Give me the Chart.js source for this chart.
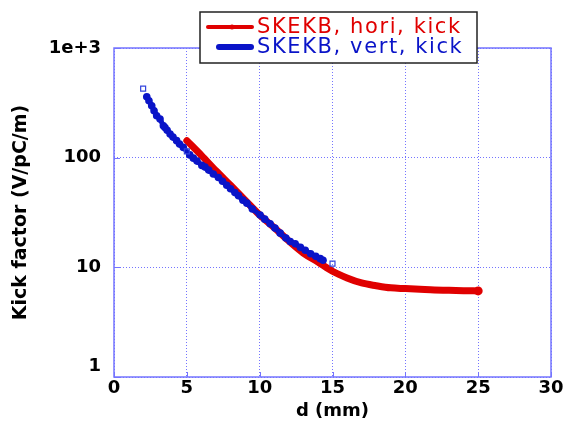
<!DOCTYPE html>
<html>
<head>
<meta charset="utf-8">
<script src="https://cdn.jsdelivr.net/npm/chart.js@4.4.0/dist/chart.umd.min.js"></script>
<style>
  html, body { margin: 0; padding: 0; background: #fff; }
</style>
</head>
<body>
<canvas id="myChart" width="568" height="431"></canvas>
<script>
// horizontal kick factor (red line)
var horiDist = [5, 6, 7, 8, 9, 10, 11, 12, 13, 14, 15, 16, 17, 18, 19, 20, 21, 22, 23, 24, 25];
var horiKick = [143, 105, 76, 56, 41, 30, 23, 17.4, 13.5, 11.2, 9.2, 8.0, 7.2, 6.8, 6.5, 6.4, 6.3, 6.2, 6.17, 6.12, 6.1];

// vertical kick factor (blue dots)
var vertDist = [2.25, 2.4, 2.59, 2.75, 2.93, 3.16, 3.39, 3.5, 3.65, 3.85, 4.05, 4.3, 4.5, 4.76, 5.2, 5.45, 5.7, 6.03, 6.25, 6.5, 6.82, 7.17, 7.45, 7.74, 8.0, 8.3, 8.55, 8.85, 9.12, 9.5, 10.03, 10.35, 10.72, 11.05, 11.41, 11.8, 12.1, 12.44, 12.8, 13.13, 13.5, 13.85, 14.16, 14.35];
var vertKick = [359, 330, 297, 268, 241, 225, 195, 188, 178, 164, 154, 143, 133, 124, 106, 99, 93, 85, 82, 77, 71, 66, 61, 56, 52, 48, 45, 41, 38.5, 34, 30, 27.5, 25, 22.8, 20.5, 18.5, 17.2, 16.4, 15.2, 14.3, 13.3, 12.6, 12, 11.6];

// open square markers on the vertical curve
var vertOpenDist = [2, 5, 15];
var vertOpenKick = [426, 114, 10.8];

var xTicks = [0, 5, 10, 15, 20, 25, 30];
var yTicks = [1, 10, 100, 1000];
var yTickText = { 1: ['1', ''], 10: '10', 100: '100', 1000: '1e+3' };

var legendLabels = ['SKEKB, hori, kick', 'SKEKB, vert, kick'];

var RED = '#e00000';
var BLUE = '#0a14c8';
var GRID = '#7474ff';

function pts(xs, ys) {
  return xs.map(function (x, i) { return { x: x, y: ys[i] }; });
}

// frame + small ticks on the plot edge
var frame = {
  id: 'frame',
  beforeDatasetsDraw: function (chart) {
    var a = chart.chartArea, c = chart.ctx;
    var xs = chart.scales.x, ys = chart.scales.y;
    c.save();
    c.strokeStyle = GRID;
    c.lineWidth = 1.5;
    c.strokeRect(a.left, a.top, a.right - a.left, a.bottom - a.top);
    c.lineWidth = 1;
    xTicks.forEach(function (v) {
      var px = Math.round(xs.getPixelForValue(v)) + 0.5;
      c.beginPath(); c.moveTo(px, a.bottom); c.lineTo(px, a.bottom - 5); c.stroke();
    });
    yTicks.forEach(function (v) {
      var py = Math.round(ys.getPixelForValue(v)) + 0.5;
      c.beginPath(); c.moveTo(a.left, py); c.lineTo(a.left + 6, py); c.stroke();
    });
    c.restore();
  }
};

// boxed legend sitting over the top edge
var boxLegend = {
  id: 'boxLegend',
  afterDraw: function (chart) {
    var c = chart.ctx;
    c.save();
    c.fillStyle = '#fff';
    c.fillRect(200, 12, 277, 51);
    c.strokeStyle = '#222';
    c.lineWidth = 1.5;
    c.strokeRect(200, 12, 277, 51);

    c.lineCap = 'round';
    c.strokeStyle = RED;
    c.lineWidth = 4;
    c.beginPath(); c.moveTo(208, 27); c.lineTo(252, 27); c.stroke();
    c.fillStyle = RED;
    c.beginPath(); c.arc(232, 27, 2.5, 0, Math.PI * 2); c.fill();

    c.strokeStyle = BLUE;
    c.lineWidth = 6;
    c.beginPath(); c.moveTo(219, 47); c.lineTo(251, 47); c.stroke();

    c.font = '21px "DejaVu Sans"';
    c.letterSpacing = '1.6px';
    c.textBaseline = 'middle';
    c.fillStyle = RED;
    c.fillText(legendLabels[0], 257, 28);
    c.fillStyle = BLUE;
    c.fillText(legendLabels[1], 257, 48);
    c.restore();
  }
};

var ctx = document.getElementById('myChart').getContext('2d');
var myChart = new Chart(ctx, {
  type: 'scatter',
  data: {
    datasets: [{
      label: legendLabels[0],
      data: pts(horiDist, horiKick),
      order: 3,
      showLine: true,
      borderColor: RED,
      backgroundColor: RED,
      borderWidth: 7,
      borderCapStyle: 'round',
      borderJoinStyle: 'round',
      cubicInterpolationMode: 'monotone',
      pointBorderWidth: 0,
      pointRadius: horiDist.map(function (d, i) { return i === horiDist.length - 1 ? 4.5 : 0; })
    }, {
      label: legendLabels[1],
      data: pts(vertDist, vertKick),
      order: 2,
      showLine: true,
      borderColor: BLUE,
      backgroundColor: BLUE,
      borderWidth: 5,
      borderCapStyle: 'round',
      borderJoinStyle: 'round',
      pointBorderWidth: 0,
      pointRadius: 3.8
    }, {
      label: 'vert open',
      data: pts(vertOpenDist, vertOpenKick),
      order: 1,
      showLine: false,
      pointStyle: 'rect',
      pointRadius: 3.5,
      borderColor: '#3344dd',
      backgroundColor: 'rgba(255,255,255,0)',
      borderWidth: 1.2
    }]
  },
  plugins: [frame, boxLegend],
  options: {
    responsive: false,
    animation: false,
    layout: { padding: { top: 48, right: 17, left: 0, bottom: 0 } },
    plugins: {
      legend: { display: false },
      tooltip: { enabled: false }
    },
    scales: {
      x: {
        type: 'linear',
        min: 0,
        max: 30,
        afterFit: function (s) { s.height = 54; },
        afterBuildTicks: function (s) { s.ticks = xTicks.map(function (v) { return { value: v }; }); },
        ticks: {
          color: '#000',
          padding: 1,
          maxRotation: 0,
          font: { family: 'DejaVu Sans', weight: 'bold', size: 18 }
        },
        grid: { color: GRID, lineWidth: 1, drawTicks: false },
        border: { display: false, dash: [1, 2] },
        title: {
          display: true,
          text: 'd (mm)',
          color: '#000',
          padding: { bottom: 9, top: 0 },
          font: { family: 'DejaVu Sans', weight: 'bold', size: 18 }
        }
      },
      y: {
        type: 'logarithmic',
        min: 1,
        max: 1000,
        afterFit: function (s) { s.width = 114; },
        afterBuildTicks: function (s) { s.ticks = yTicks.map(function (v) { return { value: v }; }); },
        ticks: {
          color: '#000',
          padding: 13,
          font: { family: 'DejaVu Sans', weight: 'bold', size: 18 },
          callback: function (v) { return yTickText[v] !== undefined ? yTickText[v] : ''; }
        },
        grid: { color: GRID, lineWidth: 1, drawTicks: false },
        border: { display: false, dash: [1, 2] },
        title: {
          display: true,
          text: 'Kick factor (V/pC/m)',
          color: '#000',
          padding: { top: 10, bottom: 0 },
          font: { family: 'DejaVu Sans', weight: 'bold', size: 19 }
        }
      }
    }
  }
});
</script>
</body>
</html>
